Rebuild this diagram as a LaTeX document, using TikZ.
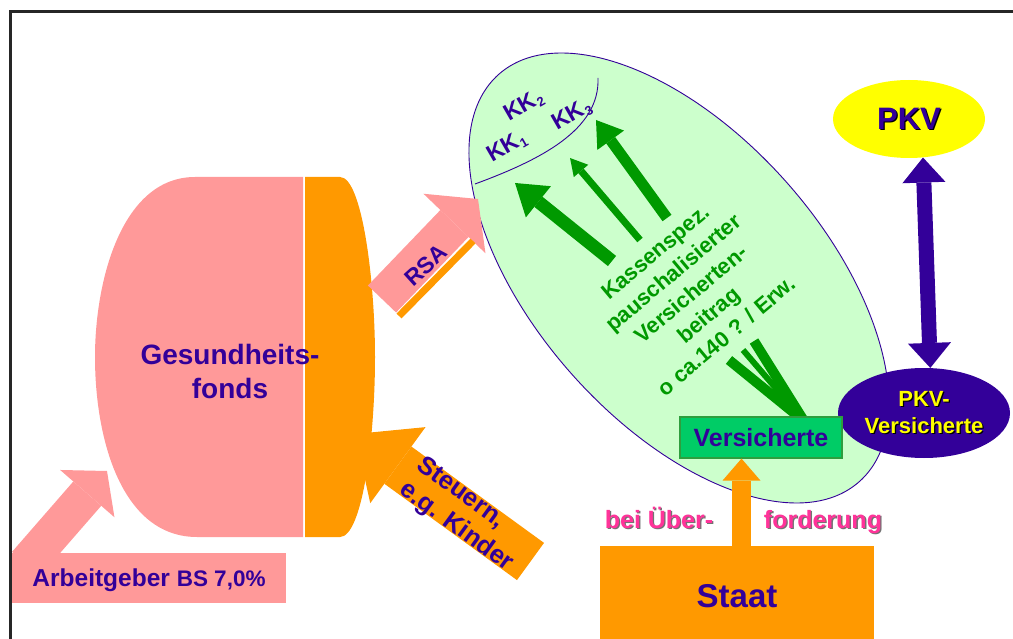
\documentclass[tikz,border=0pt]{standalone}
\usepackage{fontspec}
\setmainfont{Liberation Sans}
\usepackage{tikz}
\usetikzlibrary{shapes.geometric,arrows.meta,positioning,calc}

\definecolor{fondspink}{HTML}{FF9999}
\definecolor{fondsorange}{HTML}{FF9900}
\definecolor{darkviolet}{HTML}{330099}
\definecolor{kassegreen}{HTML}{CCFFCC}
\definecolor{beitraggreen}{HTML}{009900}
\definecolor{versgreen}{HTML}{00CC66}
\definecolor{versborder}{HTML}{2E9E3E}
\definecolor{pkvyellow}{HTML}{FFFF00}
\definecolor{hintpink}{HTML}{FF3399}

\newcommand{\setfs}[2]{\fontsize{#1}{#2}\selectfont}
\newcommand{\shadowtxt}[2]{\makebox[0pt][l]{\hspace{1.3pt}\raisebox{-1.3pt}{\textcolor{#1}{#2}}}#2}
\newcommand{\kkidx}[1]{KK\raisebox{-0.3ex}{\setfs{13}{13}#1}}

\tikzset{
  blockarrow/.style n args={3}{line width=#1, -{Triangle[width=#2,length=#3,line width=0pt]}},
  lbl/.style={font=\bfseries, text=darkviolet, align=center, inner sep=0pt},
}

\begin{document}
\begin{tikzpicture}[x=1pt, y=-1pt]
  \useasboundingbox (0,0) rectangle (1013,639);
  % frame
  \draw[line width=2.6pt, black!85] (10.7,640) -- (10.7,11.3) -- (1014,11.3);

  % Krankenkassen
  \node[ellipse, draw=darkviolet, line width=0.9pt, fill=kassegreen, rotate=-48.5,
        minimum width=544pt, minimum height=288pt, inner sep=0pt] (kasse) at (679,278) {};
  \draw[darkviolet, line width=0.9pt] (475,184) .. controls (540,160) and (600,130) .. (598,78);
  \node[lbl, font=\bfseries\setfs{23}{26}, rotate=30] (kk1) at (507,147) {\kkidx{1}};
  \node[lbl, font=\bfseries\setfs{23}{26}, rotate=30] (kk2) at (524,106) {\kkidx{2}};
  \node[lbl, font=\bfseries\setfs{23}{26}, rotate=30] (kk3) at (572,115) {\kkidx{3}};

  \coordinate (g1tail) at (612,261);  \coordinate (g1tip) at (515,183);
  \coordinate (g2tail) at (640,240);  \coordinate (g2tip) at (570,158);
  \coordinate (g3tail) at (667,218);  \coordinate (g3tip) at (596,120);
  \draw[beitraggreen, blockarrow={13pt}{40pt}{30pt}] (g1tail) -- (g1tip);
  \draw[beitraggreen, blockarrow={7pt}{19pt}{17pt}] (g2tail) -- (g2tip);
  \draw[beitraggreen, blockarrow={11pt}{33pt}{25pt}] (g3tail) -- (g3tip);
  \node[lbl, text=beitraggreen, font=\bfseries\setfs{22}{27.5}, rotate=40] (beitrag) at (691,294)
    {Kassenspez.\\pauschalisierter\\Versicherten-\\beitrag\\o ca.140 ? / Erw.};

  \coordinate (fan) at (804,421);
  \draw[beitraggreen, line width=10pt] (729,360) -- (fan);
  \draw[beitraggreen, line width=6pt] (743,350) -- (fan);
  \draw[beitraggreen, line width=10pt] (754,341) -- (fan);

  % PKV
  \node[ellipse, fill=darkviolet, minimum width=172pt, minimum height=90pt, lbl,
        text=pkvyellow, font=\bfseries\setfs{22}{27}] (pkvv) at (924,413)
        {\shadowtxt{black}{PKV-}\\\shadowtxt{black}{Versicherte}};
  \node[ellipse, fill=pkvyellow, minimum width=152pt, minimum height=78pt, lbl,
        font=\bfseries\setfs{31}{36}] (pkv) at (909,119) {\shadowtxt{black}{PKV}};
  \draw[darkviolet, line width=15pt,
        {Triangle[width=43pt,length=25pt,line width=0pt]}-{Triangle[width=43pt,length=25pt,line width=0pt]}]
        (pkv.-70) -- (pkvv.82);

  \node[draw=versborder, line width=1.2pt, fill=versgreen, minimum width=162pt, minimum height=41pt,
        lbl, text depth=0pt, font=\bfseries\setfs{25}{30}] (vers) at (761,437.5) {Versicherte};

  % Gesundheitsfonds
  \fill[fondspink] (303,177) -- (195,177) .. controls (122,177) and (95,280) .. (95,357)
     .. controls (95,440) and (122,537) .. (197,537) -- (303,537) -- cycle;
  \fill[fondsorange] (305,177) -- (340,177) .. controls (362,177) and (375,280) .. (375,357)
     .. controls (375,440) and (362,537) .. (340,537) -- (305,537) -- cycle;
  \node[lbl, font=\bfseries\setfs{28}{34}] (fonds) at (230,371) {Gesundheits-\\fonds};

  % RSA
  \coordinate (rsatail) at (382,299);
  \coordinate (rsatip) at (478,199);
  \draw[fondspink, blockarrow={39pt}{86pt}{34pt}] (rsatail) -- (rsatip);
  \draw[fondsorange, line width=7pt] (399,316) -- (473,241);
  \node[lbl, font=\bfseries\setfs{23}{26}, rotate=42] (rsa) at (426,265) {RSA};

  % Steuern
  \coordinate (sttail) at (530.5,561.5);
  \coordinate (sttip) at (355,434);
  \draw[fondsorange, blockarrow={46pt}{94pt}{53pt}] (sttail) -- (sttip);
  \node[lbl, align=left, font=\bfseries\setfs{25.5}{30}, rotate=-36] (steuern) at (465,515)
    {Steuern,\\e.g. Kinder};

  % Arbeitgeber
  \coordinate (arbgstart) at (26,564);
  \coordinate (arbgtip) at (107,471);
  \draw[fondspink, blockarrow={37pt}{72pt}{30pt}] (arbgstart) -- (arbgtip);
  \node[fill=fondspink, minimum width=274pt, minimum height=50pt, lbl, text depth=0pt,
        font=\bfseries\setfs{24.5}{28}] (arbg) at (149,578) {Arbeitgeber {\setfs{22.5}{26}BS 7,0\%}};

  % Staat
  \node[fill=fondsorange, minimum width=274pt, minimum height=100pt, lbl,
        font=\bfseries\setfs{33}{38}] (staat) at (737,596) {Staat};
  \draw[fondsorange, blockarrow={19pt}{38pt}{22pt}] ([xshift=4.5pt]staat.north) -- ([xshift=-19.5pt]vers.south);
  \node[lbl, text=hintpink, anchor=base, font=\bfseries\setfs{25}{30}] (ueber) at (659,528)
    {\shadowtxt{black!55}{bei Über-}};
  \node[lbl, text=hintpink, anchor=base, font=\bfseries\setfs{25}{30}] (forderung) at (823,528)
    {\shadowtxt{black!55}{forderung}};
\end{tikzpicture}
\end{document}
